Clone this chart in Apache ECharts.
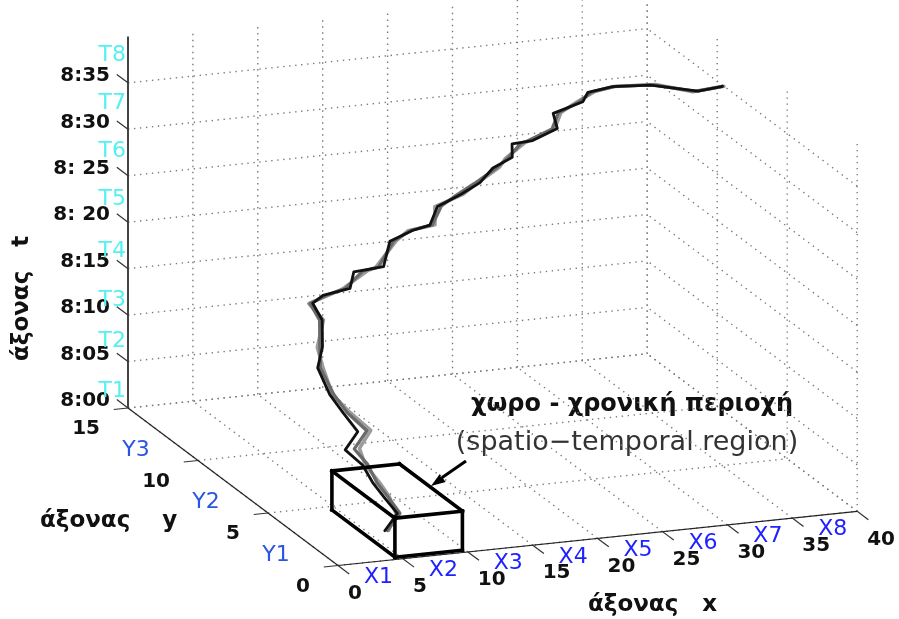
<!DOCTYPE html>
<html><head><meta charset="utf-8">
<script src="https://cdn.jsdelivr.net/npm/echarts@6/dist/echarts.min.js"></script>
<style>html,body{margin:0;padding:0;background:#fff}#c{width:899px;height:619px}</style>
</head><body><div id="c"></div>
<script>
// ---------------- data ----------------
const xTicks = [0, 5, 10, 15, 20, 25, 30, 35, 40];
const yTicks = [0, 5, 10, 15];
const tTicks = [0, 5, 10, 15, 20, 25, 30, 35];           // minutes after 8:00
const tTickLabels = ['8:00', '8:05', '8:10', '8:15', '8: 20', '8: 25', '8:30', '8:35'];
const xRange = [0, 40];
const yRange = [0, 15];
const tRange = [0, 40];

const xZoneLabels = ['X1', 'X2', 'X3', 'X4', 'X5', 'X6', 'X7', 'X8'];
const xZonePos = [2.5, 7.5, 12.5, 17.5, 22.5, 27.5, 32.5, 37.5];
const yZoneLabels = ['Y1', 'Y2', 'Y3'];
const yZonePos = [2.5, 7.5, 12.5];
const tZoneLabels = ['T1', 'T2', 'T3', 'T4', 'T5', 'T6', 'T7', 'T8'];
const tZonePos = [1.8, 7.2, 11.6, 16.9, 22.5, 27.6, 32.8, 38.0];

// spatio-temporal region (box)
const regionX = [4.6, 9.8];
const regionY = [0.2, 4.7];
const regionT = [0, 4.2];

// trajectories (t in minutes after 8:00)
const trajT = [0, 1.2, 2.6, 3.8, 5.4, 6.7, 8.0, 9.8, 11.4, 13.9, 15.6, 18.1, 19.5, 20.1, 20.3, 21.9, 22.0, 24.4, 25.2, 25.3, 27.1, 28.0, 28.8, 30.1, 30.9, 32.1, 32.1, 33.0, 34.4, 35.2, 35.9, 36.1, 36.1, 36.2, 36.3];
const trajY = [2.5, 2.9, 3.3, 3.6, 4.0, 4.4, 4.8, 5.1, 5.5, 5.9, 6.3, 6.6, 7.0, 7.1, 7.3, 7.4, 7.5, 7.7, 7.8, 8.0, 8.1, 8.2, 8.4, 8.5, 8.6, 8.8, 8.9, 9.0, 9.2, 9.3, 9.5, 9.6, 9.4, 8.4, 8.5];
const trajXBlack = [6.3, 7.7, 7.1, 6.6, 6.2, 5.3, 6.7, 5.9, 5.3, 4.8, 5.6, 5.9, 5.6, 6.5, 8.8, 9.2, 11.6, 12.3, 14.2, 15.7, 16.4, 18.3, 20.0, 21.1, 22.7, 22.9, 24.6, 26.6, 26.5, 28.9, 29.5, 31.5, 34.2, 36.8, 38.8];
const trajXDark = [6.5, 7.9, 7.4, 6.9, 6.6, 6.0, 7.4, 6.2, 5.6, 5.0, 5.4, 5.7, 5.4, 6.8, 8.4, 9.9, 11.2, 12.6, 14.0, 15.9, 16.7, 18.0, 19.6, 21.4, 22.4, 23.6, 24.2, 26.2, 26.9, 28.6, 29.8, 31.8, 34.4, 36.6, 38.7];
const trajXLight = [6.6, 7.6, 7.5, 7.1, 6.4, 6.4, 7.7, 6.4, 5.5, 5.2, 5.2, 6.0, 5.3, 7.0, 8.2, 10.3, 11.0, 12.8, 13.8, 16.1, 16.2, 18.5, 19.8, 21.6, 22.2, 23.9, 24.0, 26.4, 27.1, 28.4, 30.0, 31.6, 34.6, 36.4, 38.9];

// ---------------- view (projection of 3D axes onto the page plane) ----------------
const VIEW = { ox: 338, oy: 565.5, ex: [12.98, -1.355], ey: [-14.0, -10.5], et: [0, -9.29] };
function proj(x, y, t) {
  return [VIEW.ox + VIEW.ex[0] * x + VIEW.ey[0] * y + VIEW.et[0] * t,
          VIEW.oy + VIEW.ex[1] * x + VIEW.ey[1] * y + VIEW.et[1] * t];
}
const FONT = '"DejaVu Sans", "Noto Sans", sans-serif';

// ---------------- geometry built from data ----------------
const gridSegs = [];
xTicks.forEach(x => gridSegs.push([proj(x, yRange[0], 0), proj(x, yRange[1], 0)]));
yTicks.forEach(y => gridSegs.push([proj(xRange[0], y, 0), proj(xRange[1], y, 0)]));
xTicks.forEach(x => gridSegs.push([proj(x, yRange[1], tRange[0]), proj(x, yRange[1], tRange[1])]));
tTicks.forEach(t => gridSegs.push([proj(xRange[0], yRange[1], t), proj(xRange[1], yRange[1], t)]));
yTicks.forEach(y => gridSegs.push([proj(xRange[1], y, tRange[0]), proj(xRange[1], y, tRange[1])]));
tTicks.forEach(t => gridSegs.push([proj(xRange[1], yRange[0], t), proj(xRange[1], yRange[1], t)]));

const axisSegs = [
  [proj(xRange[0], yRange[0], 0), proj(xRange[1], yRange[0], 0)],
  [proj(xRange[0], yRange[0], 0), proj(xRange[0], yRange[1], 0)]
];
const zAxisSegs = [[proj(xRange[0], yRange[1], tRange[0]), proj(xRange[0], yRange[1], tRange[1])]];
const tickSegs = [];
xTicks.forEach(x => tickSegs.push([proj(x, 0, 0), proj(x, -0.8, 0)]));
yTicks.forEach(y => tickSegs.push([proj(0, y, 0), proj(-1.1, y, 0)]));
tTicks.forEach(t => tickSegs.push([proj(0, yRange[1], t), proj(0, yRange[1] + 0.8, t)]));

const [bx0, bx1] = regionX, [by0, by1] = regionY, [bt0, bt1] = regionT;
const boxSegs = [
  [proj(bx0, by0, bt1), proj(bx1, by0, bt1)], [proj(bx1, by0, bt1), proj(bx1, by1, bt1)],
  [proj(bx1, by1, bt1), proj(bx0, by1, bt1)], [proj(bx0, by1, bt1), proj(bx0, by0, bt1)],
  [proj(bx0, by0, bt0), proj(bx1, by0, bt0)], [proj(bx0, by0, bt0), proj(bx0, by0, bt1)],
  [proj(bx1, by0, bt0), proj(bx1, by0, bt1)],
  [proj(bx0, by1, bt0), proj(bx0, by1, bt1)], [proj(bx0, by0, bt0), proj(bx0, by1, bt0)]
];

const texts = [];
xTicks.forEach(x => texts.push({ p: proj(x, 0, 0), dx: 10, dy: 28, text: String(x), align: 'left', font: 'bold 20px ' + FONT, color: '#111' }));
yTicks.forEach(y => texts.push({ p: proj(0, y, 0), dx: -28, dy: 21, text: String(y), align: 'right', font: 'bold 20px ' + FONT, color: '#111' }));
tTicks.forEach((t, i) => texts.push({ p: proj(0, yRange[1], t), dx: -18, dy: -7, text: tTickLabels[i], align: 'right', font: 'bold 20px ' + FONT, color: '#111' }));
xZoneLabels.forEach((s, i) => texts.push({ p: proj(xZonePos[i], 0, 0), dx: 8, dy: 15, text: s, align: 'center', font: '22px ' + FONT, color: '#1f22ff' }));
yZoneLabels.forEach((s, i) => texts.push({ p: proj(0, yZonePos[i], 0), dx: -27, dy: 16, text: s, align: 'center', font: '22px ' + FONT, color: '#2a55e0' }));
tZoneLabels.forEach((s, i) => texts.push({ p: proj(0, yRange[1], tZonePos[i]), dx: -2, dy: 0, text: s, align: 'right', font: '22px ' + FONT, color: '#55f0f0' }));

function segSeries(segs, style, z) {
  return {
    type: 'custom', silent: true, z: z, clip: false,
    data: segs.map(s => [s[0][0], s[0][1], s[1][0], s[1][1]]),
    encode: { x: [0, 2], y: [1, 3] },
    renderItem: (params, api) => {
      const a = api.coord([api.value(0), api.value(1)]);
      const b = api.coord([api.value(2), api.value(3)]);
      return { type: 'line', shape: { x1: a[0], y1: a[1], x2: b[0], y2: b[1] }, style: Object.assign({ fill: null }, style) };
    }
  };
}
function trajSeries(xs, color, width, z) {
  return {
    type: 'line', z: z, symbol: 'none', silent: true, animation: false,
    data: xs.map((x, i) => proj(x, trajY[i], trajT[i])),
    lineStyle: { color: color, width: width, join: 'round', cap: 'round' }
  };
}

const chart = echarts.init(document.getElementById('c'), null, { renderer: 'canvas' });
chart.setOption({
  animation: false,
  backgroundColor: '#fff',
  grid: { left: 0, right: 0, top: 0, bottom: 0 },
  xAxis: { type: 'value', min: 0, max: 899, show: false },
  yAxis: { type: 'value', min: 0, max: 619, inverse: true, show: false },
  series: [
    segSeries(gridSegs, { stroke: '#7a7a7a', lineWidth: 1.4, lineDash: [1.4, 4.6] }, 1),
    segSeries(axisSegs, { stroke: '#222', lineWidth: 1.2 }, 2),
    segSeries(zAxisSegs, { stroke: '#444', lineWidth: 2 }, 2),
    segSeries(tickSegs, { stroke: '#333', lineWidth: 1.2 }, 2),
    trajSeries(trajXLight, '#9c9c9c', 3.6, 3),
    trajSeries(trajXDark, '#6a6a6a', 3.2, 4),
    trajSeries(trajXBlack, '#111', 2.8, 5),
    segSeries(boxSegs, { stroke: '#000', lineWidth: 3.6, lineCap: 'square' }, 6),
    {
      type: 'custom', silent: true, z: 7, clip: false,
      data: texts.map(o => [o.p[0], o.p[1]]),
      encode: { x: 0, y: 1 },
      renderItem: (params, api) => {
        const o = texts[params.dataIndex];
        const a = api.coord([api.value(0), api.value(1)]);
        return { type: 'text', x: a[0] + o.dx, y: a[1] + o.dy,
          style: { text: o.text, fill: o.color, font: o.font, align: o.align, verticalAlign: 'middle' } };
      }
    }
  ],
  graphic: [
    { type: 'text', x: 588, y: 605, style: { text: 'άξονας   x', font: 'bold 23px ' + FONT, fill: '#111', align: 'left', verticalAlign: 'middle' } },
    { type: 'text', x: 40, y: 521, style: { text: 'άξονας    y', font: 'bold 23px ' + FONT, fill: '#111', align: 'left', verticalAlign: 'middle' } },
    { type: 'text', x: 22, y: 361, rotation: Math.PI / 2,
      style: { text: 'άξονας   t', font: 'bold 23px ' + FONT, fill: '#111', align: 'left', verticalAlign: 'middle' } },
    { type: 'text', x: 632, y: 405, style: { text: 'χωρο - χρονική περιοχή', font: 'bold 24px ' + FONT, fill: '#111', align: 'center', verticalAlign: 'middle' } },
    { type: 'text', x: 627, y: 443, style: { text: '(spatio\u2212temporal region)', font: '27px ' + FONT, fill: '#333', align: 'center', verticalAlign: 'middle' } },
    { type: 'line', shape: { x1: 466, y1: 461, x2: 440, y2: 479 }, style: { stroke: '#000', lineWidth: 3 } },
    { type: 'polygon', shape: { points: [[431, 486], [445.6, 481.9], [439.8, 473.9]] }, style: { fill: '#000' } }
  ]
});
</script></body></html>
